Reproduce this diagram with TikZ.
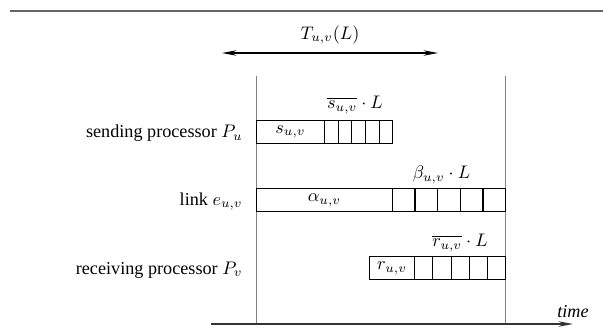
\documentclass[tikz,border=0pt]{standalone}
\usepackage{fontspec}
\setmainfont{Liberation Serif}
\usepackage{amsmath}
\usetikzlibrary{arrows.meta, positioning}
\tikzset{
  cell/.style={draw, line width=0.6pt, minimum height=12.6pt, inner sep=0pt, outer sep=0pt, anchor=west},
  rowlabel/.style={anchor=east},
  guide/.style={gray, line width=0.4pt},
}

\begin{document}
\begin{tikzpicture}[x=0.55pt, y=-0.55pt, font=\fontsize{10pt}{12pt}\selectfont]
    \useasboundingbox (0,0) rectangle (603,328);
    \draw[black!60, line width=1pt] (10,11) -- (603,11);
    % total time
    \coordinate (tl) at (222,53);
    \coordinate (tr) at (438,53);
    \draw[{Stealth[length=8pt, width=3pt]}-{Stealth[length=8pt, width=3pt]}, line width=0.6pt] (tl) -- (tr);
    \node (tlabel) at (330,35) {$T_{u,v}(L)$};
    % guides
    \coordinate (g0top) at (256.5,76);
    \coordinate (g0bot) at (256.5,324);
    \coordinate (g1top) at (505.5,76);
    \coordinate (g1bot) at (505.5,324);
    \draw[guide] (g0top) -- (g0bot);
    \draw[guide] (g1top) -- (g1bot);
    % sending processor
    \node[rowlabel] (psend) at (249,133) {sending processor $P_u$};
    \node[cell, minimum width=37.4pt] (s0) at (256.5,131.7) {$s_{u,v}$};
    \foreach \i [count=\j from 0] in {1,...,5}
      \node[cell, minimum width=7.51pt, right=0pt of s\j] (s\i) {};
    \node (slabel) at (355,105) {$\overline{s_{u,v}}\cdot L$};
    % link
    \node[rowlabel] (plink) at (249,201.5) {link $e_{u,v}$};
    \node[cell, minimum width=74.7pt] (e0) at (256.5,200) {$\alpha_{u,v}$};
    \foreach \i [count=\j from 0] in {1,...,5}
      \node[cell, minimum width=12.47pt, right=0pt of e\j] (e\i) {};
    \node (elabel) at (441.5,175) {$\beta_{u,v}\cdot L$};
    % receiving processor
    \node[rowlabel] (precv) at (249,270) {receiving processor $P_v$};
    \node[cell, minimum width=25pt] (r0) at (369.3,268.3) {$r_{u,v}$};
    \foreach \i [count=\j from 0] in {1,...,5}
      \node[cell, minimum width=10pt, right=0pt of r\j] (r\i) {};
    \node (rlabel) at (460,243) {$\overline{r_{u,v}}\cdot L$};
    % time axis
    \coordinate (t0) at (211,324);
    \coordinate (t1) at (573,324);
    \draw[-{Stealth[length=8pt, width=3pt]}, line width=0.8pt, black!80] (t0) -- (t1);
    \node (tname) at (573,311.5) {\itshape time};
\end{tikzpicture}
\end{document}
